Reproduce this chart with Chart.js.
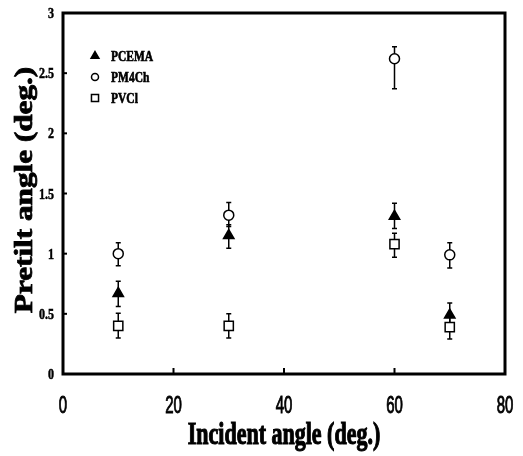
<!DOCTYPE html>
<html>
<head>
<meta charset="utf-8">
<script src="https://cdn.jsdelivr.net/npm/chart.js@4.4.1/dist/chart.umd.min.js"></script>
<style>
  html, body { margin: 0; padding: 0; background: #fff; }
  #wrap { width: 523px; height: 456px; }
</style>
</head>
<body>
<div id="wrap"><canvas id="chart" width="523" height="456"></canvas></div>
<script>
// data
const incidentAngles = [10, 30, 60, 70];
const seriesNames = ["PCEMA", "PM4Ch", "PVCl"];

const pcema = [0.67, 1.15, 1.31, 0.49];
const pcemaLow = [0.56, 1.045, 1.21, 0.38];
const pcemaHigh = [0.77, 1.24, 1.42, 0.59];

const pm4ch = [1.00, 1.32, 2.62, 0.99];
const pm4chLow = [0.90, 1.225, 2.37, 0.88];
const pm4chHigh = [1.09, 1.425, 2.72, 1.09];

const pvcl = [0.40, 0.40, 1.08, 0.39];
const pvclLow = [0.30, 0.30, 0.97, 0.29];
const pvclHigh = [0.505, 0.50, 1.17, 0.48];

const xTicks = [0, 20, 40, 60, 80];
const yTicks = [0, 0.5, 1, 1.5, 2, 2.5, 3];

const SERIF = "'Liberation Serif', 'DejaVu Serif', serif";
const SANS = "'Liberation Sans', Arial, sans-serif";

function toPoints(ys, lo, hi) {
  return incidentAngles.map((x, i) => ({ x: x, y: ys[i], lo: lo[i], hi: hi[i] }));
}

// draw text with a stretch (the scanned figure has tall, narrow, heavy lettering)
function stretchText(ctx, text, x, y, sx, sy, rot, heavy) {
  ctx.save();
  ctx.translate(x, y);
  if (rot) ctx.rotate(rot);
  ctx.scale(sx, sy);
  ctx.fillText(text, 0, 0);
  if (heavy) {
    ctx.lineWidth = heavy;
    ctx.strokeStyle = ctx.fillStyle;
    ctx.strokeText(text, 0, 0);
  }
  ctx.restore();
}

// error bars behind the markers
const errorBars = {
  id: 'errorBars',
  beforeDatasetsDraw(chart) {
    const { ctx, scales: { x, y } } = chart;
    ctx.save();
    ctx.strokeStyle = '#000';
    ctx.lineWidth = 1.5;
    chart.data.datasets.forEach(ds => {
      ds.data.forEach(p => {
        const px = x.getPixelForValue(p.x);
        const top = y.getPixelForValue(p.hi);
        const bot = y.getPixelForValue(p.lo);
        ctx.beginPath();
        ctx.moveTo(px, top); ctx.lineTo(px, bot);
        ctx.moveTo(px - 2.5, top); ctx.lineTo(px + 2.5, top);
        ctx.moveTo(px - 2.5, bot); ctx.lineTo(px + 2.5, bot);
        ctx.stroke();
      });
    });
    ctx.restore();
  }
};

// frame, inward ticks, tick labels, titles and legend
const decor = {
  id: 'decor',
  afterDraw(chart) {
    const { ctx, chartArea: a, scales: { x, y } } = chart;
    ctx.save();
    ctx.strokeStyle = '#000';
    ctx.fillStyle = '#000';
    ctx.lineWidth = 3;
    ctx.strokeRect(a.left, a.top, a.right - a.left, a.bottom - a.top);

    ctx.lineWidth = 2;
    x.ticks.forEach(t => {
      if (t.value === 0 || t.value === 80) return;
      const px = x.getPixelForValue(t.value);
      ctx.beginPath(); ctx.moveTo(px, a.bottom); ctx.lineTo(px, a.bottom - 6); ctx.stroke();
    });
    y.ticks.forEach(t => {
      if (t.value === 0 || t.value === 3) return;
      const py = y.getPixelForValue(t.value);
      ctx.beginPath(); ctx.moveTo(a.left, py); ctx.lineTo(a.left + 4, py); ctx.stroke();
    });

    // x tick labels
    ctx.font = '15px ' + SANS;
    ctx.textAlign = 'center';
    ctx.textBaseline = 'alphabetic';
    x.ticks.forEach(t => {
      stretchText(ctx, String(t.value), x.getPixelForValue(t.value), 413, 1, 1.6, 0, 0.6);
    });

    // y tick labels
    ctx.font = 'bold 12px ' + SERIF;
    ctx.textAlign = 'right';
    y.ticks.forEach(t => {
      stretchText(ctx, String(t.value), 54, y.getPixelForValue(t.value) + 5, 1, 1.3, 0, 0.4);
    });

    // axis titles
    ctx.font = 'bold 22px ' + SERIF;
    ctx.textAlign = 'center';
    stretchText(ctx, 'Incident angle (deg.)', (a.left + a.right) / 2, 444, 1, 1.4, 0, 0.8);
    ctx.font = 'bold 26px ' + SERIF;
    stretchText(ctx, 'Pretilt angle (deg.)', 32, 190, 1.2, 1, -Math.PI / 2, 0.8);

    // legend
    const rows = [56, 77, 98];
    chart.data.datasets.forEach((ds, i) => {
      ctx.fillStyle = ds.backgroundColor;
      ctx.strokeStyle = ds.borderColor;
      ctx.lineWidth = 1.5;
      Chart.helpers.drawPoint(ctx, {
        pointStyle: ds.pointStyle, radius: ds.legendRadius, rotation: 0, borderWidth: 1.5
      }, 95, rows[i]);
      ctx.fillStyle = '#000';
      ctx.font = 'bold 11.5px ' + SERIF;
      ctx.textAlign = 'left';
      stretchText(ctx, ds.label, 111, rows[i] + 4.5, 1, 1.25, 0, 0.5);
    });
    ctx.restore();
  }
};

new Chart(document.getElementById('chart'), {
  type: 'scatter',
  data: {
    datasets: [
      {
        label: seriesNames[0],
        data: toPoints(pcema, pcemaLow, pcemaHigh),
        pointStyle: 'triangle', pointRadius: 6,
        backgroundColor: '#000', borderColor: '#000', borderWidth: 1.5,
        legendRadius: 4.5
      },
      {
        label: seriesNames[1],
        data: toPoints(pm4ch, pm4chLow, pm4chHigh),
        pointStyle: 'circle', pointRadius: 5,
        backgroundColor: '#fff', borderColor: '#000', borderWidth: 1.5,
        legendRadius: 3.5
      },
      {
        label: seriesNames[2],
        data: toPoints(pvcl, pvclLow, pvclHigh),
        pointStyle: 'rect', pointRadius: 6.5,
        backgroundColor: '#fff', borderColor: '#000', borderWidth: 1.5,
        legendRadius: 5
      }
    ]
  },
  options: {
    responsive: false,
    animation: false,
    events: [],
    layout: { padding: { top: 13, right: 18, left: 0, bottom: 0 } },
    plugins: { legend: { display: false }, tooltip: { enabled: false } },
    scales: {
      x: {
        type: 'linear', min: 0, max: 80,
        afterBuildTicks: s => { s.ticks = xTicks.map(v => ({ value: v })); },
        ticks: { display: false },
        grid: { display: false },
        border: { display: false },
        afterFit: s => { s.height = 82; }
      },
      y: {
        min: 0, max: 3,
        afterBuildTicks: s => { s.ticks = yTicks.map(v => ({ value: v })); },
        ticks: { display: false },
        grid: { display: false },
        border: { display: false },
        afterFit: s => { s.width = 63; }
      }
    }
  },
  plugins: [errorBars, decor]
});
</script>
</body>
</html>
